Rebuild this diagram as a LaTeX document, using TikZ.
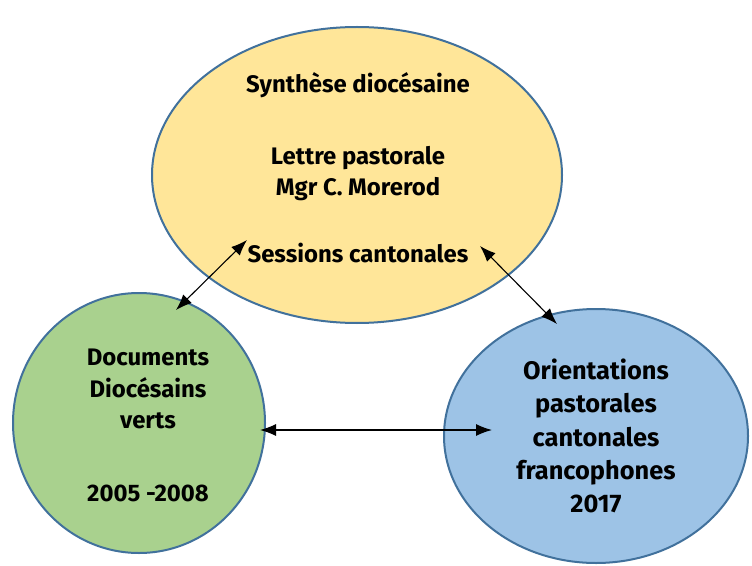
\documentclass[tikz,border=0pt]{standalone}
\usepackage{fontspec}
\setmainfont{Fira Sans}
\usetikzlibrary{arrows.meta}
\definecolor{yel}{HTML}{FFE699}
\definecolor{grn}{HTML}{A9D18E}
\definecolor{blu}{HTML}{9DC3E6}
\definecolor{edge}{HTML}{41719C}
\begin{document}
\begin{tikzpicture}[x=1bp,y=-1bp,
  blob/.style={draw=edge,line width=2bp},
  lbl/.style={font=\bfseries\fontsize{24}{31}\selectfont,align=center,inner sep=0pt,text=black},
  link/.style={line width=1.1bp,{Latex[length=16bp,width=12bp]}-{Latex[length=16bp,width=12bp]}}]
\useasboundingbox (0,0) rectangle (752,566);
\fill[white] (0,0) rectangle (752,566);
\path[blob,fill=yel] (357,175) ellipse [x radius=205,y radius=148];
\path[blob,fill=grn] (139,423) ellipse [x radius=126,y radius=130];
\path[blob,fill=blu] (596,436) ellipse [x radius=152,y radius=127];
\node[lbl] (syn) at (358,85) {Synthèse diocésaine};
\node[lbl] (let) at (358,174) {Lettre pastorale\\Mgr C. Morerod};
\node[lbl] (ses) at (358,253) {Sessions cantonales};
\node[lbl,font=\bfseries\fontsize{24}{32}\selectfont] (doc) at (148,389) {Documents\\Diocésains\\verts};
\node[lbl] (yr) at (148,493) {2005 -2008};
\node[lbl,font=\bfseries\fontsize{25.5}{33.5}\selectfont] (ori) at (596,436) {Orientations\\pastorales\\cantonales\\francophones\\2017};
\coordinate (a1) at (247,240);
\coordinate (a2) at (176,310);
\coordinate (b1) at (480,246);
\coordinate (b2) at (557,324);
\coordinate (c1) at (260,430);
\coordinate (c2) at (492,430);
\draw[link] (a1) -- (a2);
\draw[link] (b1) -- (b2);
\draw[link] (c1) -- (c2);
\end{tikzpicture}
\end{document}
